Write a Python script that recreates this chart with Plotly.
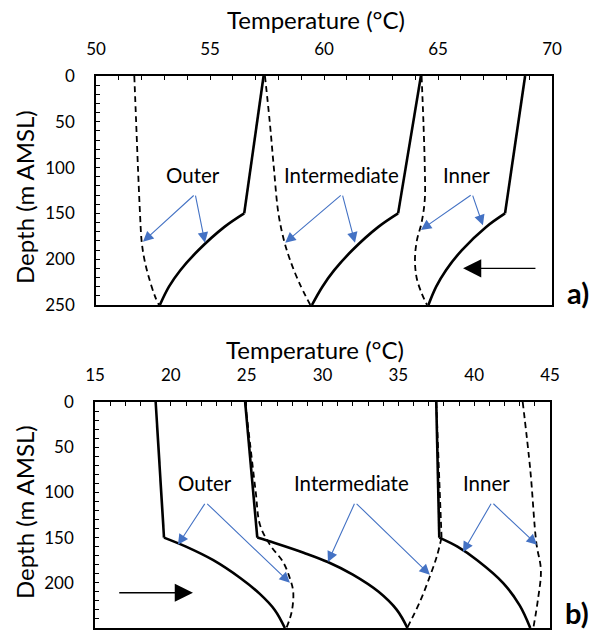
import plotly.graph_objects as go

# ---------------- data (panel a) ----------------
a_outer_solid_depth = [0, 150, 165, 190, 212, 230, 250]
a_outer_solid_temp = [57.35, 56.5, 55.62, 54.5, 53.7, 53.2, 52.8]
a_outer_dash_depth = [0, 50, 100, 150, 180, 200, 220, 240, 250]
a_outer_dash_temp = [51.68, 51.76, 51.84, 51.93, 52.0, 52.12, 52.32, 52.58, 52.76]
a_inter_solid_depth = [0, 150, 165, 190, 212, 230, 250]
a_inter_solid_temp = [64.25, 63.25, 62.37, 61.25, 60.45, 59.93, 59.47]
a_inter_dash_depth = [0, 50, 100, 150, 180, 200, 225, 250]
a_inter_dash_temp = [57.41, 57.62, 57.8, 58.0, 58.25, 58.5, 58.9, 59.4]
a_inner_solid_depth = [0, 150, 165, 190, 212, 230, 250]
a_inner_solid_temp = [68.82, 67.94, 67.1, 66.05, 65.35, 64.92, 64.58]
a_inner_dash_depth = [0, 50, 100, 135, 160, 180, 200, 220, 237, 250]
a_inner_dash_temp = [64.28, 64.36, 64.42, 64.42, 64.28, 64.07, 63.99, 64.06, 64.28, 64.52]

# ---------------- data (panel b) ----------------
b_outer_solid_depth = [0, 150, 160, 175, 195, 212, 230, 250]
b_outer_solid_temp = [19.0, 19.55, 21.0, 22.8, 24.6, 25.85, 26.85, 27.52]
b_outer_dash_depth = [0, 50, 100, 136, 158, 177, 195, 210, 232, 250]
b_outer_dash_temp = [24.9, 25.25, 25.6, 25.88, 26.54, 27.4, 27.85, 28.07, 27.97, 27.62]
b_inter_solid_depth = [0, 150, 156, 167, 177, 191, 210, 230, 250]
b_inter_solid_temp = [24.9, 25.7, 26.85, 28.8, 30.35, 32.0, 33.7, 34.9, 35.6]
b_inter_dash_depth = [0, 75, 150, 170, 192, 221, 250]
b_inter_dash_temp = [37.5, 37.68, 37.85, 37.55, 37.1, 36.42, 35.58]
b_inner_solid_depth = [0, 150, 160, 175, 200, 225, 250]
b_inner_solid_temp = [37.5, 37.7, 38.9, 40.2, 41.9, 43.0, 43.7]
b_inner_dash_depth = [0, 75, 156, 186, 219, 250]
b_inner_dash_temp = [43.2, 43.7, 44.1, 44.4, 44.2, 43.9]

x_a_ticks = [50, 55, 60, 65, 70]
x_b_ticks = [15, 20, 25, 30, 35, 40, 45]
y_ticks = [0, 50, 100, 150, 200, 250]

FONT = "Lato"
BLUE = "#4472C4"

fig = go.Figure()


def kinked(depth, temp, xa, ya, dash=None, width=2.6):
    # upper straight part (0-150 m) and lower curved part (150-250 m)
    k = depth.index(150) if 150 in depth else 1
    line = dict(color="black", width=width)
    if dash:
        line["dash"] = dash
    fig.add_trace(go.Scatter(x=temp[:k + 1], y=depth[:k + 1], mode="lines",
                             line=line, xaxis=xa, yaxis=ya, showlegend=False,
                             hoverinfo="skip"))
    l2 = dict(line)
    l2["shape"] = "spline"
    fig.add_trace(go.Scatter(x=temp[k:], y=depth[k:], mode="lines",
                             line=l2, xaxis=xa, yaxis=ya, showlegend=False,
                             hoverinfo="skip"))


def smooth(depth, temp, xa, ya, dash="6px,4px", width=1.8):
    fig.add_trace(go.Scatter(x=temp, y=depth, mode="lines",
                             line=dict(color="black", width=width, dash=dash,
                                       shape="spline"),
                             xaxis=xa, yaxis=ya, showlegend=False,
                             hoverinfo="skip"))


# panel a
kinked(a_outer_solid_depth, a_outer_solid_temp, "x", "y")
kinked(a_inter_solid_depth, a_inter_solid_temp, "x", "y")
kinked(a_inner_solid_depth, a_inner_solid_temp, "x", "y")
smooth(a_outer_dash_depth, a_outer_dash_temp, "x", "y")
smooth(a_inter_dash_depth, a_inter_dash_temp, "x", "y")
smooth(a_inner_dash_depth, a_inner_dash_temp, "x", "y")

# panel b
kinked(b_outer_solid_depth, b_outer_solid_temp, "x2", "y2")
kinked(b_inter_solid_depth, b_inter_solid_temp, "x2", "y2")
kinked(b_inner_solid_depth, b_inner_solid_temp, "x2", "y2")
smooth(b_outer_dash_depth, b_outer_dash_temp, "x2", "y2")
kinked(b_inter_dash_depth, b_inter_dash_temp, "x2", "y2", dash="6px,4px", width=1.8)
smooth(b_inner_dash_depth, b_inner_dash_temp, "x2", "y2")

W, H = 600, 637


def py(p):
    return 1 - p / H


def px(p):
    return p / W


axis_common = dict(
    ticks="inside", ticklen=4, tickwidth=1, tickcolor="black",
    showline=True, linecolor="black", linewidth=1.6, mirror=True,
    showgrid=False, zeroline=False,
    tickfont=dict(family=FONT, size=17, color="black"),
    automargin=False,
)

fig.update_layout(
    width=W, height=H,
    margin=dict(l=0, r=0, t=0, b=0),
    paper_bgcolor="white", plot_bgcolor="white",
    showlegend=False,
    xaxis=dict(domain=[px(96), px(552)], anchor="y", side="top",
               range=[50, 70], tickvals=x_a_ticks, ticklabelstandoff=12,
               minor=dict(dtick=1, ticks="inside", ticklen=4, tickcolor="black",
                          showgrid=False),
               **axis_common),
    yaxis=dict(domain=[py(305), py(76)], anchor="x",
               range=[250, 0], tickvals=y_ticks, ticklabelstandoff=16,
               minor=dict(dtick=10, ticks="inside", ticklen=4, tickcolor="black",
                          showgrid=False),
               **axis_common),
    xaxis2=dict(domain=[px(95), px(550)], anchor="y2", side="top",
                range=[15, 45], tickvals=x_b_ticks, ticklabelstandoff=12,
                minor=dict(dtick=1, ticks="inside", ticklen=4, tickcolor="black",
                           showgrid=False),
                **axis_common),
    yaxis2=dict(domain=[py(628), py(402)], anchor="x2",
                range=[250, 0], tickvals=y_ticks, ticklabelstandoff=16,
                minor=dict(dtick=10, ticks="inside", ticklen=4, tickcolor="black",
                           showgrid=False),
                **axis_common),
)

ann = []
title_font = dict(family=FONT, size=24, color="black")
lab_font = dict(family=FONT, size=20.5, color="black")

# axis titles
for (cx, cy) in [(316, 20), (315, 349)]:
    ann.append(dict(text="Temperature (°C)", x=px(cx), y=py(cy), xref="paper",
                    yref="paper", showarrow=False, font=title_font,
                    xanchor="center", yanchor="middle"))
for cy in [197, 512]:
    ann.append(dict(text="Depth (m AMSL)", x=px(24), y=py(cy), xref="paper",
                    yref="paper", showarrow=False, font=title_font, textangle=-90,
                    xanchor="center", yanchor="middle"))

# panel letters
ann.append(dict(text="<b>a)</b>", x=px(578), y=py(292), xref="paper", yref="paper",
                xanchor="center", yanchor="middle",
                showarrow=False, font=dict(family=FONT, size=29, color="black")))
ann.append(dict(text="<b>b)</b>", x=px(577), y=py(612), xref="paper", yref="paper",
                xanchor="center", yanchor="middle",
                showarrow=False, font=dict(family=FONT, size=29, color="black")))

# labels with blue arrows: (text, text_x, text_y, origin, [tips], xref, yref)
labels = [
    ("Outer", 54.25, 108, (54.35, 129), [(52.06, 181), (54.78, 182)], "x", "y"),
    ("Intermediate", 60.75, 108, (60.8, 129), [(58.3, 182), (61.36, 182)], "x", "y"),
    ("Inner", 66.27, 108, (66.5, 129), [(64.25, 168), (66.97, 163)], "x", "y"),
    ("Outer", 22.25, 90, (22.3, 111), [(20.47, 158), (27.85, 200)], "x2", "y2"),
    ("Intermediate", 31.9, 90, (32.15, 111), [(30.36, 177), (37.08, 191)], "x2", "y2"),
    ("Inner", 40.84, 90, (41.17, 111), [(39.26, 166), (44.14, 158)], "x2", "y2"),
]
for text, tx, ty, (ox, oy), tips, xr, yr in labels:
    ann.append(dict(text=text, x=tx, y=ty, xref=xr, yref=yr, showarrow=False,
                    font=lab_font))
    for (hx, hy) in tips:
        ann.append(dict(text="", x=hx, y=hy, ax=ox, ay=oy, xref=xr, yref=yr,
                        axref=xr, ayref=yr, showarrow=True, arrowhead=2,
                        arrowsize=1.9, arrowwidth=1.1, arrowcolor=BLUE))

# black flow arrows
ann.append(dict(text="", x=66.1, y=210, ax=69.34, ay=210, xref="x", yref="y",
                axref="x", ayref="y", showarrow=True, arrowhead=2, arrowsize=2.8,
                arrowwidth=1.3, arrowcolor="black"))
ann.append(dict(text="", x=21.46, y=211, ax=16.5, ay=211, xref="x2", yref="y2",
                axref="x2", ayref="y2", showarrow=True, arrowhead=2, arrowsize=2.8,
                arrowwidth=1.3, arrowcolor="black"))

fig.update_layout(annotations=ann)
fig.write_html("out.html")
